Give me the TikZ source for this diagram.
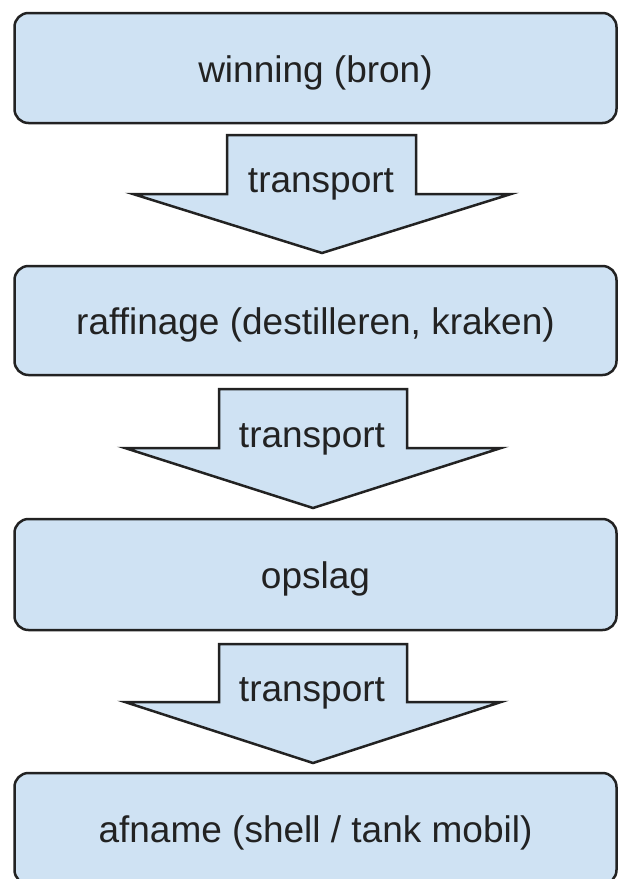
\documentclass[tikz,border=0pt]{standalone}
\usepackage{fontspec}
\setmainfont{Liberation Sans}

\definecolor{stagefill}{HTML}{CFE2F3}
\definecolor{stageline}{HTML}{222222}

\tikzset{
	stage/.style={draw=stageline, line width=2.5pt, fill=stagefill, rounded corners=14pt,
		minimum width=602pt, text height=30pt, text depth=2pt, text=stageline,
		font=\fontsize{37}{44}\selectfont},
	flow/.style={draw=stageline, line width=2.5pt, fill=stagefill, line join=miter},
	flowtext/.style={anchor=base, inner sep=0pt, text=stageline, font=\fontsize{37}{44}\selectfont}
}

\begin{document}
\begin{tikzpicture}[x=1pt, y=-1pt]
	\useasboundingbox (0,0) rectangle (618,879);

	\node[stage, minimum height=110pt] (winning)   at (315.5,68)    {winning (bron)};
	\node[stage, minimum height=109pt] (raffinage) at (315.5,320.5) {raffinage (destilleren, kraken)};
	\node[stage, minimum height=111pt] (opslag)    at (315.5,574.5) {opslag};
	\node[stage, minimum height=111pt] (afname)    at (315.5,828.5) {afname (shell / tank mobil)};

	\draw[flow] (227,135) -- (416,135) -- (416,194) -- (511,194) -- (322,253) -- (133,194) -- (227,194) -- cycle;
	\draw[flow] (219,389) -- (407,389) -- (407,448) -- (501,448) -- (313,508) -- (125,448) -- (219,448) -- cycle;
	\draw[flow] (219,644) -- (407,644) -- (407,702) -- (501,702) -- (313,763) -- (125,702) -- (219,702) -- cycle;

	\node[flowtext] (transport1) at (321,192) {transport};
	\node[flowtext] (transport2) at (312,447) {transport};
	\node[flowtext] (transport3) at (312,701) {transport};
\end{tikzpicture}
\end{document}
